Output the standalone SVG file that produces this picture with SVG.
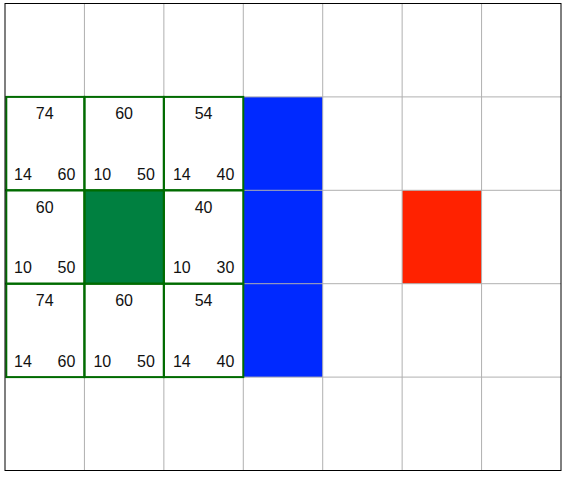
<svg xmlns="http://www.w3.org/2000/svg" width="564" height="478" viewBox="0 0 564 478">
<style>
.grid{stroke:#b0b0b0;stroke-width:1;fill:none}
.open{fill:none;stroke:#006b00;stroke-width:2}
.t{font-family:"Liberation Sans",Arial,sans-serif;font-size:16px;fill:#111}
.c{text-anchor:middle}
.r{text-anchor:end}
</style>
<rect x="0" y="0" width="564" height="478" fill="#fff"/>
<g id="fills">
<rect id="start" x="84.43" y="190.3" width="79.43" height="93.4" fill="#008040"/>
<rect id="wall" x="243.29" y="96.9" width="79.43" height="280.2" fill="#0029ff"/>
<rect id="goal" x="402.14" y="190.3" width="79.43" height="93.4" fill="#ff2200"/>
</g>
<g id="grid" class="grid">
<line x1="84.43" y1="3.5" x2="84.43" y2="470.5"/>
<line x1="163.86" y1="3.5" x2="163.86" y2="470.5"/>
<line x1="243.29" y1="3.5" x2="243.29" y2="470.5"/>
<line x1="322.71" y1="3.5" x2="322.71" y2="470.5"/>
<line x1="402.14" y1="3.5" x2="402.14" y2="470.5"/>
<line x1="481.57" y1="3.5" x2="481.57" y2="470.5"/>
<line x1="5" y1="96.9" x2="561" y2="96.9"/>
<line x1="5" y1="190.3" x2="561" y2="190.3"/>
<line x1="5" y1="283.7" x2="561" y2="283.7"/>
<line x1="5" y1="377.1" x2="561" y2="377.1"/>
</g>
<g id="n00"><rect class="open" x="6.3" y="96.9" width="78.13" height="93.4"/><text class="t c" x="44.7" y="119.4">74</text><text class="t" x="14" y="180">14</text><text class="t r" x="75.4" y="180">60</text></g>
<g id="n01"><rect class="open" x="84.43" y="96.9" width="79.43" height="93.4"/><text class="t c" x="124.1" y="119.4">60</text><text class="t" x="93.4" y="180">10</text><text class="t r" x="154.9" y="180">50</text></g>
<g id="n02"><rect class="open" x="163.86" y="96.9" width="79.43" height="93.4"/><text class="t c" x="203.6" y="119.4">54</text><text class="t" x="172.9" y="180">14</text><text class="t r" x="234.3" y="180">40</text></g>
<g id="n10"><rect class="open" x="6.3" y="190.3" width="78.13" height="93.4"/><text class="t c" x="44.7" y="212.8">60</text><text class="t" x="14" y="273.4">10</text><text class="t r" x="75.4" y="273.4">50</text></g>
<g id="n11"><rect class="open" x="84.43" y="190.3" width="79.43" height="93.4"/></g>
<g id="n12"><rect class="open" x="163.86" y="190.3" width="79.43" height="93.4"/><text class="t c" x="203.6" y="212.8">40</text><text class="t" x="172.9" y="273.4">10</text><text class="t r" x="234.3" y="273.4">30</text></g>
<g id="n20"><rect class="open" x="6.3" y="283.7" width="78.13" height="93.4"/><text class="t c" x="44.7" y="306.2">74</text><text class="t" x="14" y="366.6">14</text><text class="t r" x="75.4" y="366.6">60</text></g>
<g id="n21"><rect class="open" x="84.43" y="283.7" width="79.43" height="93.4"/><text class="t c" x="124.1" y="306.2">60</text><text class="t" x="93.4" y="366.6">10</text><text class="t r" x="154.9" y="366.6">50</text></g>
<g id="n22"><rect class="open" x="163.86" y="283.7" width="79.43" height="93.4"/><text class="t c" x="203.6" y="306.2">54</text><text class="t" x="172.9" y="366.6">14</text><text class="t r" x="234.3" y="366.6">40</text></g>
<rect id="border" x="5" y="3.5" width="556" height="467" fill="none" stroke="#000" stroke-width="1"/>
</svg>
